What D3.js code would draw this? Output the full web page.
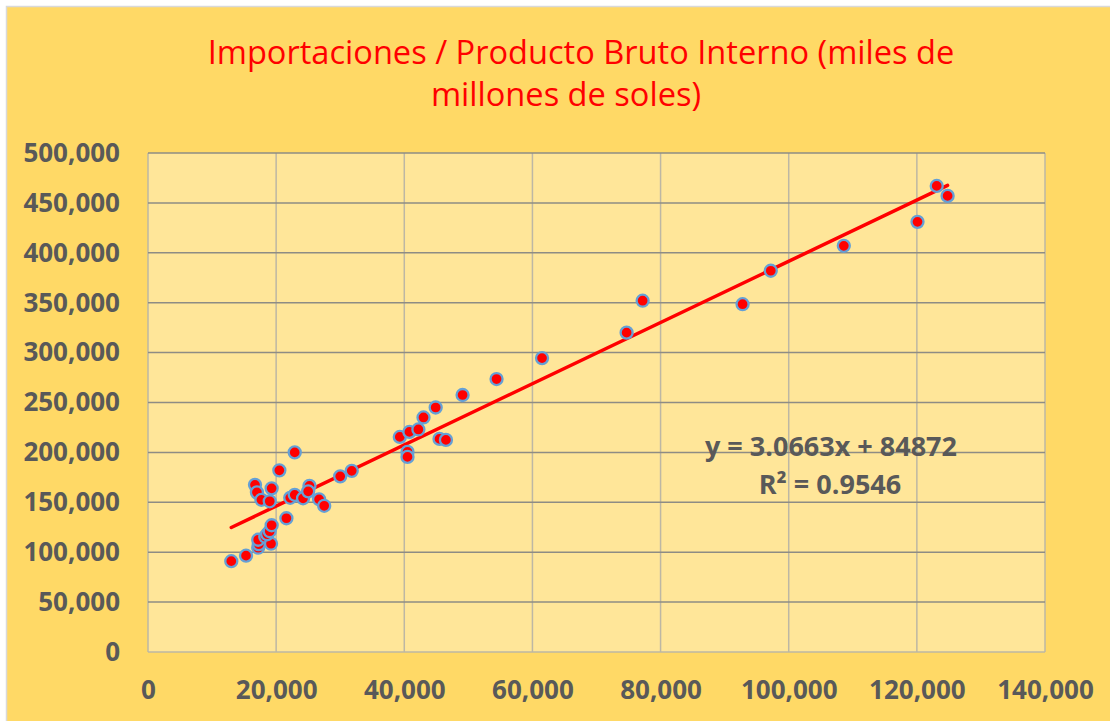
<!DOCTYPE html>
<html>
<head>
<meta charset="utf-8">
<script src="https://cdn.jsdelivr.net/npm/d3@7"></script>
<style>
  body { margin: 0; background: #ffffff; }
  .tick text { font-family: "Open Sans", sans-serif; font-weight: bold; fill: #595959; }
</style>
</head>
<body>
<svg id="chart"></svg>
<script>
// importaciones (x) vs PBI (y), miles de millones de soles
const importaciones = [13000, 15300, 17200, 17300, 17200, 18300, 19200, 18600, 19000, 19300,
    21600, 16700, 17000, 17700, 19300, 19000, 20500, 22900, 22200, 22900,
    24200, 25200, 25000, 26700, 27500, 30000, 31800, 39300, 40800, 42200,
    43000, 44900, 49100, 54400, 40500, 40500, 45500, 46500, 61500, 74700,
    77200, 92800, 97200, 108600, 120100, 123100, 124800];
const pbi = [91000, 96500, 104500, 108000, 112500, 115500, 108500, 118000, 121000, 127000,
    134000, 167500, 160000, 152500, 164000, 151000, 182000, 200000, 154500, 157500,
    154000, 166500, 161000, 153000, 146500, 176000, 181500, 215500, 220500, 223000,
    235000, 245000, 257500, 273500, 200500, 195500, 213500, 212500, 294500, 320000,
    352000, 348500, 382000, 407000, 431000, 467000, 457000];

const xTicks = [0, 20000, 40000, 60000, 80000, 100000, 120000, 140000];
const yTicks = [0, 50000, 100000, 150000, 200000, 250000, 300000, 350000, 400000, 450000, 500000];

const titleLines = ["Importaciones / Producto Bruto Interno (miles de", "millones de soles)"];
const slope = 3.0663, intercept = 84872, r2 = 0.9546;

const W = 1110, H = 721;
const plot = { left: 148, top: 153, right: 1045, bottom: 652 };

const data = importaciones.map((v, i) => ({ x: v, y: pbi[i] }));

const svg = d3.select("#chart")
    .attr("width", W)
    .attr("height", H);

// chart area
svg.append("rect")
    .attr("x", 6.5).attr("y", 6.5)
    .attr("width", W).attr("height", H)
    .attr("fill", "#FFD966")
    .attr("stroke", "#D9D9D9")
    .attr("stroke-width", 1.5);

let x = d3.scaleLinear().domain([0, 140000]).range([plot.left, plot.right]);
let y = d3.scaleLinear().domain([0, 500000]).range([plot.bottom, plot.top]);

// plot area
svg.append("rect")
    .attr("x", plot.left).attr("y", plot.top)
    .attr("width", plot.right - plot.left).attr("height", plot.bottom - plot.top)
    .attr("fill", "#FFE699");

// gridlines
svg.append("g").selectAll("line")
    .data(xTicks)
    .enter().append("line")
    .attr("x1", d => x(d)).attr("x2", d => x(d))
    .attr("y1", plot.top).attr("y2", plot.bottom)
    .attr("stroke", "#BDB7A4")
    .attr("stroke-width", 1.5);

svg.append("g").selectAll("line")
    .data(yTicks)
    .enter().append("line")
    .attr("x1", plot.left).attr("x2", plot.right)
    .attr("y1", d => y(d)).attr("y2", d => y(d))
    .attr("stroke", d => d === 0 ? "#BDB7A4" : "#8E8C84")
    .attr("stroke-width", 1.5);

// axes (labels only)
const fmt = d3.format(",");
svg.append("g")
    .attr("transform", "translate(" + plot.left + ",0)")
    .call(d3.axisLeft(y).tickValues(yTicks).tickFormat(fmt).tickSize(0).tickPadding(28))
    .call(g => g.select(".domain").remove())
    .selectAll("text")
    .style("font-size", "26px");

svg.append("g")
    .attr("transform", "translate(0," + plot.bottom + ")")
    .call(d3.axisBottom(x).tickValues(xTicks).tickFormat(fmt).tickSize(0).tickPadding(29))
    .call(g => g.select(".domain").remove())
    .selectAll("text")
    .style("font-size", "26px");

// trendline over the data range
const xmin = d3.min(importaciones), xmax = d3.max(importaciones);
svg.append("line")
    .attr("x1", x(xmin)).attr("y1", y(slope * xmin + intercept))
    .attr("x2", x(xmax)).attr("y2", y(slope * xmax + intercept))
    .attr("stroke", "#FF0000")
    .attr("stroke-width", 3.5)
    .attr("stroke-linecap", "round");

// points
svg.append("g").selectAll(".dot")
    .data(data)
    .enter().append("circle")
    .classed("dot", true)
    .attr("cx", d => x(d.x))
    .attr("cy", d => y(d.y))
    .attr("r", 6)
    .attr("fill", "#FF0000")
    .attr("stroke", "#65A0D6")
    .attr("stroke-width", 2.3);

// equation label
const eq = svg.append("g")
    .attr("font-family", "Open Sans, sans-serif")
    .attr("font-weight", "bold")
    .attr("font-size", "27px")
    .attr("fill", "#595959")
    .attr("text-anchor", "middle");
eq.append("text")
    .attr("x", 831).attr("y", 456)
    .text("y = " + slope + "x + " + intercept);
eq.append("text")
    .attr("x", 830).attr("y", 494)
    .text("R² = " + r2);

// title, sized to fit the first line's width
const title = svg.append("g")
    .attr("font-family", "Open Sans, sans-serif")
    .attr("fill", "#FF0000")
    .attr("text-anchor", "middle");
let t1 = title.append("text").attr("x", 581).attr("y", 64).attr("font-size", 32).text(titleLines[0]);
let len = t1.node().getComputedTextLength();
let fs = 32 * 747 / len;
t1.attr("font-size", fs);
title.append("text").attr("x", 566).attr("y", 106).attr("font-size", fs).text(titleLines[1]);
</script>
</body>
</html>
